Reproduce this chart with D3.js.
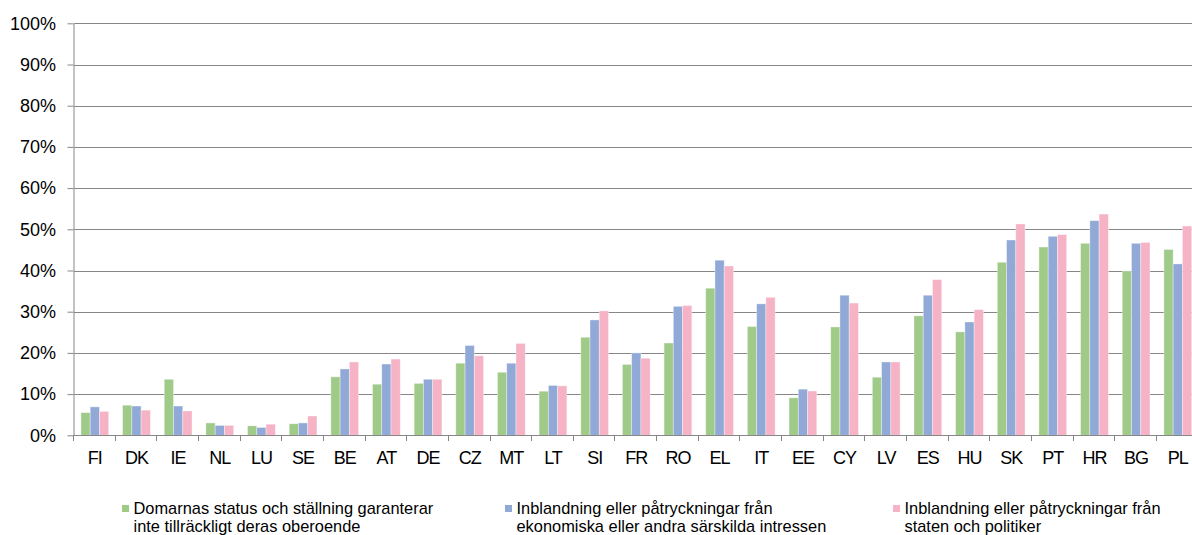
<!DOCTYPE html>
<html>
<head>
<meta charset="utf-8">
<script src="https://cdn.jsdelivr.net/npm/d3@7"></script>
<style>
  html, body { margin: 0; padding: 0; background: #fff; }
  svg { display: block; font-family: "Liberation Sans", Arial, sans-serif; }
</style>
</head>
<body>
<svg id="chart" width="1192" height="535"></svg>
<script>
// Country codes along the x axis
const countries = ["FI","DK","IE","NL","LU","SE","BE","AT","DE","CZ","MT","LT","SI","FR","RO","EL","IT","EE","CY","LV","ES","HU","SK","PT","HR","BG","PL"];

// Share of respondents (%) naming each reason
const statusValues   = [5.5, 7.3, 13.6, 3.0, 2.3, 2.8, 14.2, 12.4, 12.6, 17.5, 15.3, 10.7, 23.8, 17.2, 22.4, 35.7, 26.4, 9.1, 26.3, 14.1, 29.0, 25.1, 42.0, 45.7, 46.6, 39.9, 45.1];
const economicValues = [6.9, 7.1, 7.1, 2.4, 1.9, 3.0, 16.1, 17.3, 13.6, 21.8, 17.5, 12.1, 28.0, 20.0, 31.3, 42.5, 31.9, 11.2, 34.0, 17.8, 34.0, 27.5, 47.4, 48.3, 52.1, 46.6, 41.6];
const politicalValues = [5.8, 6.1, 5.9, 2.4, 2.7, 4.7, 17.8, 18.5, 13.6, 19.3, 22.3, 12.0, 30.2, 18.7, 31.5, 41.1, 33.5, 10.75, 32.1, 17.8, 37.8, 30.5, 51.3, 48.7, 53.7, 46.8, 50.8];

// Legend entries (two lines each)
const seriesLabels = [
  ["Domarnas status och ställning garanterar", "inte tillräckligt deras oberoende"],
  ["Inblandning eller påtryckningar från", "ekonomiska eller andra särskilda intressen"],
  ["Inblandning eller påtryckningar från", "staten och politiker"]
];
const seriesColors = ["#A0CA88", "#90A9D7", "#F5B3C5"];
const yTicks = [0, 10, 20, 30, 40, 50, 60, 70, 80, 90, 100];

const series = [statusValues, economicValues, politicalValues];
const svg = d3.select("#chart");

const plotLeft = 74, plotRight = 1198.6, plotTop = 23.3, plotBottom = 435.3;

const x0 = d3.scaleBand().domain(countries).range([plotLeft, plotRight]).padding(0);
const x1 = d3.scaleBand().domain(d3.range(series.length)).range([0, x0.bandwidth()])
  .paddingInner(0).paddingOuter(0.75);
const y = d3.scaleLinear().domain([0, 100]).range([plotBottom, plotTop]);

const gridColor = "#878787";

// Horizontal gridlines
svg.append("g").selectAll("line").data(yTicks.filter(d => d > 0)).join("line")
  .attr("x1", plotLeft).attr("x2", 1192)
  .attr("y1", d => Math.round(y(d)) + 0.5).attr("y2", d => Math.round(y(d)) + 0.5)
  .attr("stroke", gridColor).attr("stroke-width", 1);

// Bars
const groups = svg.append("g").selectAll("g").data(countries).join("g")
  .attr("transform", d => `translate(${x0(d)},0)`);
groups.selectAll("rect")
  .data((c, i) => series.map((s, k) => ({ k, v: s[i] })))
  .join("rect")
  .attr("x", d => x1(d.k))
  .attr("width", x1.bandwidth())
  .attr("y", d => y(d.v))
  .attr("height", d => y(0) - y(d.v))
  .attr("fill", d => seriesColors[d.k])
  .attr("stroke", "rgba(255,255,255,0.45)")
  .attr("stroke-width", 0.8);

// Y axis
const yAxis = svg.append("g")
  .attr("transform", `translate(${plotLeft - 0.5},0)`)
  .call(d3.axisLeft(y).tickValues(yTicks).tickFormat(d => d + "%").tickSize(6).tickSizeOuter(0));
yAxis.select(".domain").attr("stroke", gridColor);
yAxis.selectAll(".tick line").attr("stroke", gridColor);
yAxis.selectAll(".tick text")
  .attr("x", -17.5)
  .attr("fill", "#000")
  .style("font-size", "18px")
  .style("font-family", "'Liberation Sans', Arial, sans-serif");

// X axis baseline with boundary tick marks
const xAxis = svg.append("g");
xAxis.append("line")
  .attr("x1", plotLeft - 0.5).attr("x2", 1192)
  .attr("y1", Math.round(plotBottom) + 0.5).attr("y2", Math.round(plotBottom) + 0.5)
  .attr("stroke", gridColor);
xAxis.selectAll("line.b").data(d3.range(countries.length + 1)).join("line")
  .attr("class", "b")
  .attr("x1", i => Math.round(plotLeft + i * x0.step()) - 0.5)
  .attr("x2", i => Math.round(plotLeft + i * x0.step()) - 0.5)
  .attr("y1", Math.round(plotBottom)).attr("y2", Math.round(plotBottom) + 6)
  .attr("stroke", gridColor);
xAxis.selectAll("text").data(countries).join("text")
  .attr("x", d => x0(d) + x0.bandwidth() / 2)
  .attr("y", 464)
  .attr("text-anchor", "middle")
  .attr("fill", "#000")
  .style("font-size", "18px")
  .style("letter-spacing", "-1px")
  .text(d => d);

// Legend
const legendX = [122, 505, 893];
const legend = svg.append("g").selectAll("g").data(seriesLabels).join("g")
  .attr("transform", (d, i) => `translate(${legendX[i]},0)`);
legend.append("rect")
  .attr("x", 0).attr("y", 505).attr("width", 7).attr("height", 7)
  .attr("fill", (d, i) => seriesColors[i]);
legend.each(function(lines) {
  const g = d3.select(this);
  lines.forEach((t, j) => {
    g.append("text")
      .attr("x", 11.5).attr("y", 514 + j * 18.3)
      .attr("fill", "#000")
      .style("font-size", "16.4px")
      .text(t);
  });
});
</script>
</body>
</html>
